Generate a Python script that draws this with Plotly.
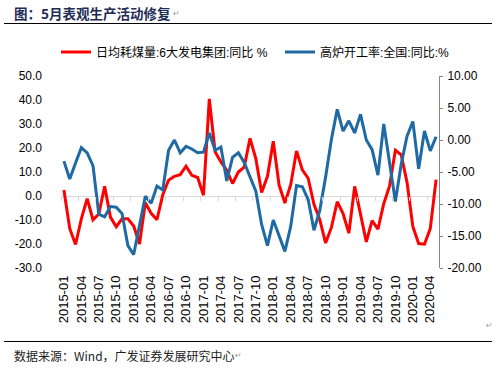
import plotly.graph_objects as go

# ---- data ----
months = [f"{y}-{m:02d}" for y in range(2015, 2021) for m in range(1, 13)][:65]  # 2015-01 .. 2020-05
tick_months = months[0:64:3]  # 2015-01, 2015-04, ..., 2020-04

coal_yoy = [2.5, -13.5, -20.2, -9.5, -1.1, -9.9, -7.5, 4.0, -8.8, -12.8, -9.5, -9.5,
            -12.5, -20.0, -2.8, -7.2, -9.9, 0.5, 6.6, 8.2, 8.9, 12.4, 8.6, 7.7,
            0.3, 40.5, 18.4, 14.2, 10.7, 5.2, 10.0, 12.0, 24.0, 15.6, 1.5, 8.2,
            22.8, 4.6, -2.9, 4.7, 18.8, 10.9, 7.4, -3.5, -9.9, -19.6, -13.1, -2.4,
            -7.3, -15.5, 4.0, -7.3, -19.1, -10.3, -13.8, -3.2, 4.2, 19.1, 17.2, 5.7,
            -12.7, -19.8, -20.1, -13.6, 6.8]
blast_yoy = [-3.3, -6.1, -3.6, -1.2, -2.0, -4.0, -11.6, -12.0, -10.4, -10.5, -11.5, -16.5,
             -17.9, -13.4, -8.8, -9.9, -7.2, -7.8, -1.6, 0.0, -2.0, -1.0, -1.4, -2.0,
             -1.9, 1.1, -1.6, -1.1, -6.4, -2.7, -2.0, -3.5, -5.8, -8.0, -13.2, -16.5,
             -12.5, -15.0, -17.4, -13.5, -7.1, -7.3, -9.3, -14.1, -11.0, -5.8, 0.1, 4.8,
             1.4, 3.0, 1.1, 4.0, 0.0, -1.5, -5.5, 2.5, -3.5, -9.6, -3.8, 0.6,
             2.9, -4.5, 1.4, -1.7, 0.5]

left_ticks = [50, 40, 30, 20, 10, 0, -10, -20, -30]
left_ticktext = ["50.0", "40.0", "30.0", "20.0", "10.0", "0.0", "-10.0", "-20.0", "-30.0"]
right_ticks = [10, 5, 0, -5, -10, -15, -20]
right_ticktext = ["10.00", "5.00", "0.00", "-5.00", "-10.00", "-15.00", "-20.00"]

name_coal = "日均耗煤量:6大发电集团:同比 %"
name_blast = "高炉开工率:全国:同比:%"
title_text = "图：5月表观生产活动修复"
source_text = "数据来源：Wind，广发证券发展研究中心"

# ---- layout geometry (pixels) ----
W, H = 496, 368
ML, MR, MT, MB = 61, 57, 76, 100
PW, PH = W - ML - MR, H - MT - MB

def px(xp):
    return (xp - ML) / PW

def py(yp):
    return (H - MB - yp) / PH

idx = list(range(len(months)))
tickpos = [months.index(m) for m in tick_months]

fig = go.Figure()
fig.add_trace(go.Scatter(x=idx, y=coal_yoy, name=name_coal, mode="lines",
                         line=dict(color="#FF0000", width=3), yaxis="y", legend="legend"))
fig.add_trace(go.Scatter(x=idx, y=blast_yoy, name=name_blast, mode="lines",
                         line=dict(color="#1F6AA5", width=3), yaxis="y2", legend="legend2"))
# helper trace to register the category tick axis crossing at zero
fig.add_trace(go.Scatter(x=[], y=[], xaxis="x2", yaxis="y", showlegend=False, hoverinfo="skip"))

tickfont = dict(family="Liberation Sans, Arial, sans-serif", size=12, color="#000000")
legfont = dict(family="Liberation Sans, Noto Sans CJK SC, sans-serif", size=12, color="#000")

fig.update_layout(
    width=W, height=H,
    margin=dict(l=ML, r=MR, t=MT, b=MB),
    paper_bgcolor="white", plot_bgcolor="white",
    showlegend=True,
    legend=dict(orientation="h", xref="paper", yref="paper",
                x=px(56), y=py(52), xanchor="left", yanchor="middle",
                font=legfont, bgcolor="rgba(0,0,0,0)", itemwidth=30),
    legend2=dict(orientation="h", xref="paper", yref="paper",
                 x=px(280), y=py(52), xanchor="left", yanchor="middle",
                 font=legfont, bgcolor="rgba(0,0,0,0)", itemwidth=30),
    xaxis=dict(range=[-0.5, len(months) - 0.5], tickmode="array", tickvals=tickpos,
               ticktext=tick_months, tickangle=-90, showgrid=False, zeroline=False,
               showline=False, ticks="", tickfont=dict(tickfont, size=13), ticklabelstandoff=4),
    xaxis2=dict(range=[-0.5, len(months) - 0.5], overlaying="x", anchor="free",
                position=30 / 80, tickmode="array",
                tickvals=[p - 0.5 for p in tickpos],
                showticklabels=False, ticks="outside", ticklen=4, tickcolor="#D9D9D9",
                showgrid=False, zeroline=False, showline=False),
    yaxis=dict(range=[-30, 50], tickmode="array", tickvals=left_ticks, ticktext=left_ticktext,
               showgrid=False, zeroline=True, zerolinecolor="#D9D9D9", zerolinewidth=1,
               showline=False, ticks="", tickfont=tickfont, ticklabelstandoff=18),
    yaxis2=dict(range=[-20, 10], overlaying="y", side="right", tickmode="array",
                tickvals=right_ticks, ticktext=right_ticktext, showgrid=False, zeroline=False,
                showline=True, linecolor="#868686", linewidth=1, ticks="outside", ticklen=3,
                tickcolor="#868686", tickfont=tickfont, ticklabelstandoff=2),
)

# title / source as annotations
fig.add_annotation(text=title_text, xref="paper", yref="paper", x=px(12), y=py(13),
                   xanchor="left", yanchor="middle", showarrow=False,
                   font=dict(family="Noto Sans CJK SC, sans-serif", size=13.5, color="#1F2D56", weight="bold"))
fig.add_annotation(text="↵", xref="paper", yref="paper", x=px(171), y=py(14),
                   xanchor="left", yanchor="middle", showarrow=False,
                   font=dict(family="DejaVu Sans", size=8, color="#999999"))
fig.add_annotation(text=source_text, xref="paper", yref="paper", x=px(12), y=py(355),
                   xanchor="left", yanchor="middle", showarrow=False,
                   font=dict(family="Noto Sans CJK SC, sans-serif", size=12, color="#222222"))
fig.add_annotation(text="↵", xref="paper", yref="paper", x=px(233), y=py(355),
                   xanchor="left", yanchor="middle", showarrow=False,
                   font=dict(family="DejaVu Sans", size=8, color="#999999"))
fig.add_annotation(text="↵", xref="paper", yref="paper", x=px(484), y=py(325),
                   xanchor="left", yanchor="middle", showarrow=False,
                   font=dict(family="DejaVu Sans", size=8, color="#999999"))

# horizontal rules
for yline in (23.5, 341.5):
    fig.add_shape(type="line", xref="paper", yref="paper", x0=px(4), x1=px(492),
                  y0=py(yline), y1=py(yline), line=dict(color="#000000", width=1))

fig.write_html("out.html", config={"displayModeBar": False},
               post_script="document.body.style.margin='0';document.body.style.overflow='hidden';")
